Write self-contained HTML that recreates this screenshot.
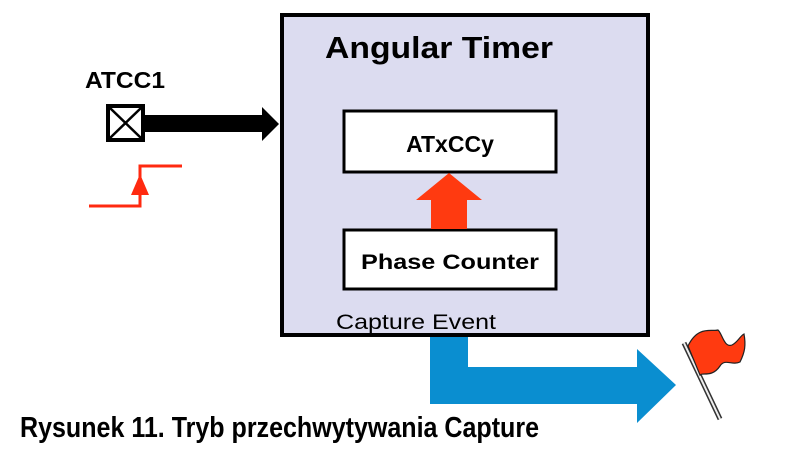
<!DOCTYPE html>
<html><head><meta charset="utf-8"><style>
body{margin:0;background:#fff;width:803px;height:456px;overflow:hidden}
</style></head><body>
<svg width="803" height="456" viewBox="0 0 803 456" xmlns="http://www.w3.org/2000/svg" style="position:absolute;left:0;top:0">
<rect x="282" y="15" width="366" height="320" fill="#dcdcf0" stroke="#000" stroke-width="4"/>
<text x="439" y="58" font-family="Liberation Sans, sans-serif" font-weight="bold" font-size="31" text-anchor="middle" textLength="228" lengthAdjust="spacingAndGlyphs">Angular Timer</text>
<rect x="344" y="111" width="212" height="61" fill="#fff" stroke="#000" stroke-width="3"/>
<text x="450" y="152" font-family="Liberation Sans, sans-serif" font-weight="bold" font-size="23" text-anchor="middle">ATxCCy</text>
<rect x="344" y="230" width="212" height="59" fill="#fff" stroke="#000" stroke-width="3"/>
<text x="450" y="269" font-family="Liberation Sans, sans-serif" font-weight="bold" font-size="21" text-anchor="middle" textLength="178" lengthAdjust="spacingAndGlyphs">Phase Counter</text>
<polygon points="431,229 467,229 467,200 482,200 449,173 416,200 431,200" fill="#ff3a10"/>
<text x="336" y="329" font-family="Liberation Sans, sans-serif" font-size="21" textLength="160" lengthAdjust="spacingAndGlyphs">Capture Event</text>
<polygon points="430,337 468,337 468,367 637,367 637,349 676,385 637,423 637,404 430,404" fill="#0a8ed0"/>
<text x="85" y="88" font-family="Liberation Sans, sans-serif" font-weight="bold" font-size="23" textLength="80" lengthAdjust="spacingAndGlyphs">ATCC1</text>
<rect x="108" y="106" width="35" height="34" fill="#fff" stroke="#000" stroke-width="4"/>
<line x1="110" y1="108" x2="141" y2="138" stroke="#000" stroke-width="2.5"/>
<line x1="141" y1="108" x2="110" y2="138" stroke="#000" stroke-width="2.5"/>
<polygon points="144,115 262,115 262,107 279,124 262,141 262,132 144,132" fill="#000"/>
<polyline points="89,206 140,206 140,166 182,166" fill="none" stroke="#ff2a10" stroke-width="3"/>
<polygon points="140,174 131,195 149,195" fill="#ff2a10"/>
<line x1="684" y1="343" x2="720" y2="419" stroke="#333" stroke-width="5"/>
<line x1="684" y1="343" x2="720" y2="419" stroke="#eee" stroke-width="2"/>
<path d="M688,346 C698,325 712,332 718,330 C722,333 724,348 732,345 C738,342 740,336 744,334 C746,345 745,352 740,362 C732,366 725,358 720,366 C712,378 702,372 700,375 Z" fill="#ff3a10" stroke="#222" stroke-width="1.2"/>
<text x="20" y="437" font-family="Liberation Sans, sans-serif" font-weight="bold" font-size="29" textLength="519" lengthAdjust="spacingAndGlyphs">Rysunek 11. Tryb przechwytywania Capture</text>
</svg>
</body></html>
